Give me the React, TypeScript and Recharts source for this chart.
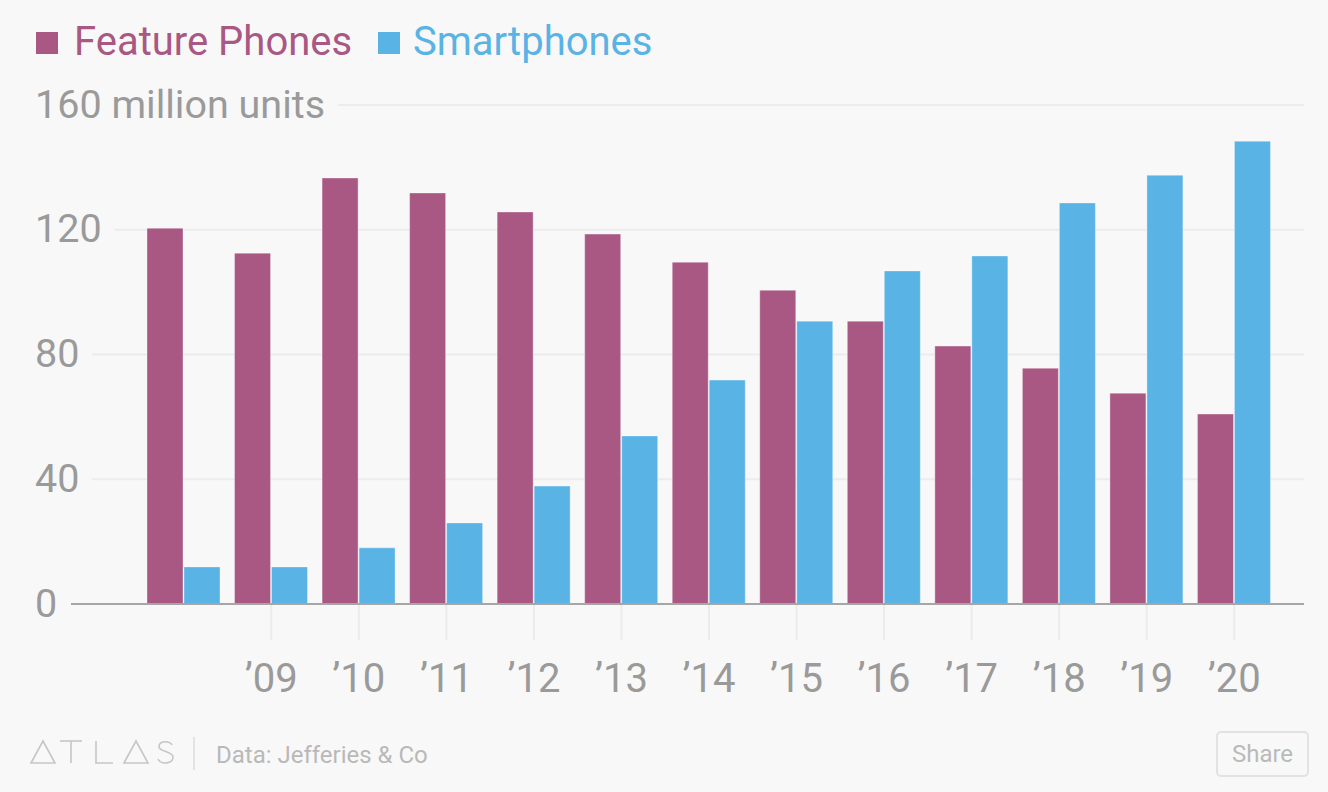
import React from 'react';
import { BarChart, Bar, XAxis, YAxis, CartesianGrid } from 'recharts';

const years = ['2008', '2009', '2010', '2011', '2012', '2013', '2014', '2015', '2016', '2017', '2018', '2019', '2020'];
const tickLabels = ['', '’09', '’10', '’11', '’12', '’13', '’14', '’15', '’16', '’17', '’18', '’19', '’20'];
const featurePhones = [120.5, 112.5, 136.6, 131.8, 125.7, 118.6, 109.6, 100.6, 90.7, 82.7, 75.6, 67.6, 60.9];
const smartphones = [11.9, 11.9, 18, 26, 37.8, 53.9, 71.8, 90.7, 106.8, 111.6, 128.6, 137.5, 148.4];
const yTicks = [0, 40, 80, 120, 160];

const data = years.map((year, i) => ({
  year,
  feature: featurePhones[i],
  smart: smartphones[i]
}));

const BG = '#f8f8f8';
const PURPLE = '#a95883';
const BLUE = '#59b3e5';
const GRAY = '#9a9a9a';
const FONT = 'Roboto, "Noto Sans", sans-serif';

const YTick = (props: any) => {
  const { y, payload } = props;
  const label = payload.value === 160 ? '160 million units' : String(payload.value);
  return <text x={35} y={y - 1} dominantBaseline="central" textAnchor="start" fill={GRAY} fontSize={39.5} fontFamily={FONT} stroke={BG} strokeWidth={30} strokeLinejoin="round" paintOrder="stroke">
      {label}
    </text>;
};

const XTick = (props: any) => {
  const { x, y, index } = props;
  if (!tickLabels[index]) return null;
  return <g>
      <line x1={x} x2={x} y1={y + 1} y2={y + 36} stroke="#ebebeb" strokeWidth={2} />
      <text x={x} y={y + 74} dominantBaseline="central" textAnchor="middle" fill={GRAY} fontSize={40} fontFamily={FONT}>
        {tickLabels[index]}
      </text>
    </g>;
};

const App: React.FC = () => {
  return <div style={{
    position: 'absolute',
    left: 0,
    top: 0,
    width: 1328,
    height: 792,
    background: BG,
    fontFamily: FONT,
    overflow: 'hidden'
  }}>
      {/* legend */}
      <div style={{ position: 'absolute', left: 36, top: 32, width: 22, height: 22, background: PURPLE }} />
      <div style={{ position: 'absolute', left: 74, top: 22, fontSize: 40, lineHeight: '40px', color: PURPLE, whiteSpace: 'nowrap' }}>
        Feature Phones
      </div>
      <div style={{ position: 'absolute', left: 378, top: 32, width: 22, height: 22, background: BLUE }} />
      <div style={{ position: 'absolute', left: 413, top: 22, fontSize: 40, lineHeight: '40px', color: BLUE, whiteSpace: 'nowrap' }}>
        Smartphones
      </div>

      <div style={{ position: 'absolute', left: 0, top: 0 }}>
        <BarChart width={1328} height={720} data={data} margin={{ top: 105, right: 24, left: 0, bottom: 0 }} barCategoryGap={7} barGap={1}>
          <CartesianGrid vertical={false} stroke="#ececec" strokeWidth={2} />
          <XAxis dataKey="year" interval={0} height={116} tickSize={0} tickMargin={0} tickLine={false} axisLine={{ stroke: '#a6a6a6', strokeWidth: 2 }} padding={{ left: 69, right: 26 }} tick={<XTick />} />
          <YAxis width={71} domain={[0, 160]} ticks={yTicks} axisLine={false} tickLine={false} tick={<YTick />} />
          <Bar dataKey="feature" fill={PURPLE} stroke="rgba(255,255,255,0.35)" strokeWidth={1} isAnimationActive={false} />
          <Bar dataKey="smart" fill={BLUE} stroke="rgba(255,255,255,0.35)" strokeWidth={1} isAnimationActive={false} />
        </BarChart>
      </div>

      {/* footer */}
      <svg style={{ position: 'absolute', left: 0, top: 720 }} width={200} height={60}>
        <g fill="none" stroke="#c6c6c6" strokeWidth={1.6}>
          <polygon points="31,43 43,21 55,43" />
          <polyline points="60,21 82,21" />
          <polyline points="71,21 71,43" />
          <polyline points="96,21 96,43 113,43" />
          <polygon points="124,43 136,21 148,43" />
          <path d="M172,25 C170,21 160,20 159,26 C158,32 173,31 173,37 C173,44 161,45 158,39" />
          <line x1={194} x2={194} y1={17} y2={50} stroke="#dedede" />
        </g>
      </svg>
      <div style={{ position: 'absolute', left: 216, top: 743, fontSize: 24, lineHeight: '24px', color: '#b9b9b9', whiteSpace: 'nowrap' }}>
        Data: Jefferies &amp; Co
      </div>
      <div style={{
      position: 'absolute',
      left: 1216,
      top: 731,
      width: 89,
      height: 42,
      border: '2px solid #e2e2e2',
      borderRadius: 5,
      display: 'flex',
      alignItems: 'center',
      justifyContent: 'center',
      fontSize: 24,
      color: '#bababa'
    }}>
        Share
      </div>
    </div>;
};

export default App;
